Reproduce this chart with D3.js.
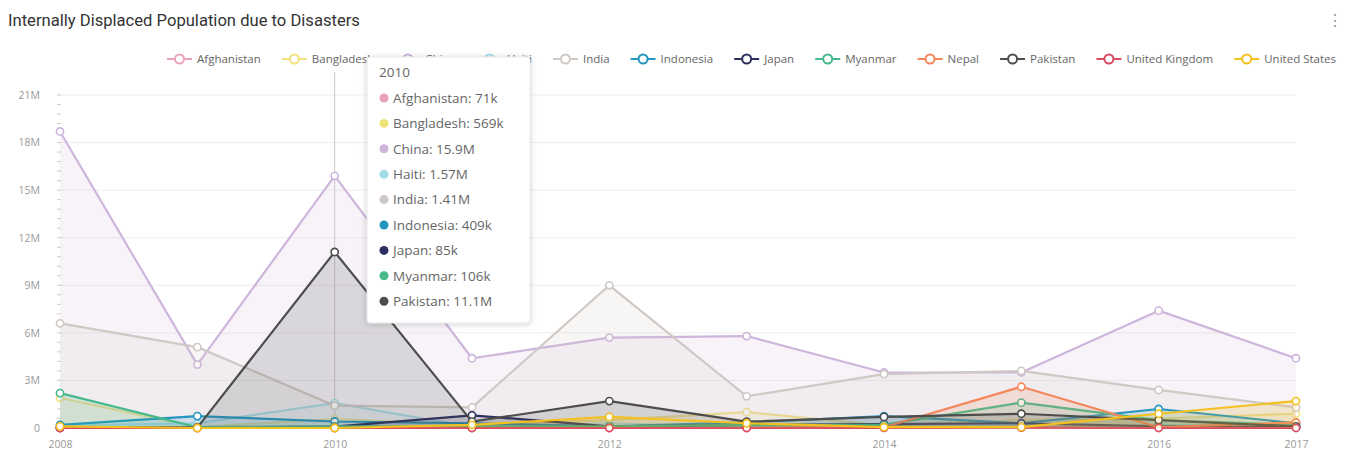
<!DOCTYPE html>
<html>
<head>
<meta charset="utf-8">
<script src="https://cdn.jsdelivr.net/npm/d3@7"></script>
<style>
  html, body { margin: 0; padding: 0; background: #fff; }
  svg { display: block; font-family: "Open Sans", "Noto Sans", sans-serif; }
</style>
</head>
<body>
<div id="chart"></div>
<script>
// years on the x axis
let years = [2008, 2009, 2010, 2011, 2012, 2013, 2014, 2015, 2016, 2017];
let xTickValues = [2008, 2010, 2012, 2014, 2016, 2017];
let yTickValues = [0, 3e6, 6e6, 9e6, 12e6, 15e6, 18e6, 21e6];

let countries = ['Afghanistan', 'Bangladesh', 'China', 'Haiti', 'India', 'Indonesia',
    'Japan', 'Myanmar', 'Nepal', 'Pakistan', 'United Kingdom', 'United States'];

// displaced people per year
let afghanistan = [0.01e6, 0.01e6, 71e3, 0.03e6, 0.03e6, 0.02e6, 0.02e6, 0.02e6, 0.02e6, 0.1e6];
let bangladesh = [1.9e6, 0.05e6, 569e3, 0.2e6, 0.5e6, 1.0e6, 0.15e6, 0.5e6, 0.6e6, 0.9e6];
let china = [18.7e6, 4.0e6, 15.9e6, 4.4e6, 5.7e6, 5.8e6, 3.5e6, 3.5e6, 7.4e6, 4.4e6];
let haiti = [0.15e6, 0.3e6, 1.57e6, 0.05e6, 0.3e6, 0.05e6, 0.02e6, 0.03e6, 0.2e6, 0.05e6];
let india = [6.6e6, 5.1e6, 1.41e6, 1.3e6, 9.0e6, 2.0e6, 3.4e6, 3.6e6, 2.4e6, 1.3e6];
let indonesia = [0.2e6, 0.75e6, 409e3, 0.3e6, 0.1e6, 0.35e6, 0.75e6, 0.3e6, 1.2e6, 0.3e6];
let japan = [0.01e6, 0.03e6, 85e3, 0.8e6, 0.1e6, 0.2e6, 0.25e6, 0.3e6, 0.1e6, 0.05e6];
let myanmar = [2.2e6, 0.05e6, 106e3, 0.1e6, 0.1e6, 0.2e6, 0.2e6, 1.6e6, 0.5e6, 0.2e6];
let nepal = [0, 0, 0, 0, 0, 0, 0.05e6, 2.6e6, 0.05e6, 0.35e6];
let pakistan = [0.05e6, 0.02e6, 11.1e6, 0.4e6, 1.7e6, 0.4e6, 0.7e6, 0.9e6, 0.5e6, 0.1e6];
let unitedKingdom = [0, 0, 0, 0, 0, 0, 0.01e6, 0.02e6, 0, 0];
let unitedStates = [0.1e6, 0, 0, 0.2e6, 0.7e6, 0.3e6, 0.05e6, 0.05e6, 0.9e6, 1.7e6];

let colors = ['#eba3b8', '#f2e27c', '#cdb5dc', '#a3dde9', '#cfc8c4', '#2596be',
    '#2d2f5e', '#46b98c', '#f4875b', '#4d4d4d', '#db4a63', '#f4c01e'];

let hoverYear = 2010;

let seriesValues = [afghanistan, bangladesh, china, haiti, india, indonesia,
    japan, myanmar, nepal, pakistan, unitedKingdom, unitedStates];

let W = 1350, H = 452;
let plot = { left: 60, right: 1296, top: 95, bottom: 428 };

let svg = d3.select('#chart').append('svg')
    .attr('width', W)
    .attr('height', H);

let transformX = d3.scaleLinear()
    .domain([years[0], years[years.length - 1]])
    .range([plot.left, plot.right]);

let transformY = d3.scaleLinear()
    .domain([0, 21e6])
    .range([plot.bottom, plot.top]);

// title + menu
svg.append('text')
    .attr('x', 8).attr('y', 26)
    .attr('font-family', 'Roboto, sans-serif')
    .attr('font-size', 16.6)
    .attr('fill', '#333')
    .text('Internally Displaced Population due to Disasters');

svg.append('text')
    .attr('x', 1335).attr('y', 26)
    .attr('text-anchor', 'middle')
    .attr('font-size', 16)
    .attr('fill', '#999')
    .text('\u22EE');

// grid
let gridG = svg.append('g').attr('class', 'grid');
gridG.selectAll('line').data(yTickValues).enter()
    .append('line')
    .attr('x1', plot.left).attr('x2', plot.right)
    .attr('y1', d => transformY(d)).attr('y2', d => transformY(d))
    .attr('stroke', '#eeeeee')
    .attr('stroke-width', 1);

// y axis, minor ticks every 600k
let axisY = d3.axisLeft(transformY)
    .tickValues(yTickValues)
    .tickFormat(d => d === 0 ? '0' : d3.format('~s')(d))
    .tickSize(0)
    .tickPadding(20);

let yG = svg.append('g')
    .attr('transform', 'translate(' + plot.left + ',0)')
    .call(axisY);
yG.select('.domain').remove();
yG.selectAll('text').attr('fill', '#999').attr('font-size', 10.5)
    .attr('font-family', '"Open Sans", sans-serif');

let minorTicks = d3.range(0, 21e6 + 1, 6e5);
svg.append('g').selectAll('line').data(minorTicks).enter()
    .append('line')
    .attr('x1', plot.left - 3).attr('x2', plot.left + 1)
    .attr('y1', d => transformY(d)).attr('y2', d => transformY(d))
    .attr('stroke', '#cccccc');

// x axis
let axisX = d3.axisBottom(transformX)
    .tickValues(xTickValues)
    .tickFormat(d3.format('d'))
    .tickSize(0)
    .tickPadding(13);

let xG = svg.append('g')
    .attr('transform', 'translate(0,' + plot.bottom + ')')
    .call(axisX);
xG.select('.domain').remove();
xG.selectAll('text').attr('fill', '#999').attr('font-size', 10.5)
    .attr('font-family', '"Open Sans", sans-serif');

// hover crosshair
svg.append('line')
    .attr('x1', transformX(hoverYear)).attr('x2', transformX(hoverYear))
    .attr('y1', 72).attr('y2', plot.bottom)
    .attr('stroke', '#c8c8c8')
    .attr('stroke-width', 1);

// series
let area = d3.area()
    .x(d => transformX(d.year))
    .y0(transformY(0))
    .y1(d => transformY(d.value));

let line = d3.line()
    .x(d => transformX(d.year))
    .y(d => transformY(d.value));

countries.forEach(function (name, i) {
    let data = years.map((yr, j) => ({ year: yr, value: seriesValues[i][j] }));
    let g = svg.append('g').attr('class', 'series');

    g.append('path').datum(data)
        .attr('d', area)
        .attr('fill', colors[i])
        .attr('fill-opacity', 0.17);

    g.append('path').datum(data)
        .attr('d', line)
        .attr('fill', 'none')
        .attr('stroke', colors[i])
        .attr('stroke-width', 2.2)
        .attr('stroke-linejoin', 'round');

    g.selectAll('circle').data(data).enter()
        .append('circle')
        .attr('cx', d => transformX(d.year))
        .attr('cy', d => transformY(d.value))
        .attr('r', 3.6)
        .attr('fill', '#fff')
        .attr('stroke', colors[i])
        .attr('stroke-width', 1.6);
});

// legend, spread between the measured ends
let legendLeft = 167, legendRight = 1336, legendY = 59;
let symW = 25, symPad = 5;
let legendG = svg.append('g').attr('class', 'legend');
let items = countries.map(function (name, i) {
    let it = legendG.append('g');
    it.append('text')
        .attr('font-size', 11.5)
        .attr('fill', '#666')
        .attr('dy', '0.35em')
        .text(name);
    return it;
});
let widths = items.map(it => symW + symPad + it.select('text').node().getComputedTextLength());
let gap = (legendRight - legendLeft - d3.sum(widths)) / (items.length - 1);
let cursor = legendLeft;
items.forEach(function (it, i) {
    it.attr('transform', 'translate(' + cursor + ',' + legendY + ')');
    it.select('text').attr('x', symW + symPad);
    it.insert('line', 'text')
        .attr('x1', 0).attr('x2', symW)
        .attr('stroke', colors[i]).attr('stroke-width', 2);
    it.insert('circle', 'text')
        .attr('cx', symW / 2).attr('r', 4.5)
        .attr('fill', '#fff')
        .attr('stroke', colors[i]).attr('stroke-width', 2);
    cursor += widths[i] + gap;
});

// tooltip for the hovered year
let hoverIdx = years.indexOf(hoverYear);
let tipRows = countries
    .map((name, i) => ({ name: name, value: seriesValues[i][hoverIdx], color: colors[i] }))
    .filter(d => d.value > 0);

let defs = svg.append('defs');
let shadow = defs.append('filter').attr('id', 'tipShadow')
    .attr('x', '-20%').attr('y', '-20%').attr('width', '140%').attr('height', '140%');
shadow.append('feDropShadow')
    .attr('dx', 0).attr('dy', 1).attr('stdDeviation', 3)
    .attr('flood-color', '#000').attr('flood-opacity', 0.18);

let tip = svg.append('g').attr('transform', 'translate(367,57)');
tip.append('rect')
    .attr('width', 163)
    .attr('height', 266)
    .attr('rx', 3)
    .attr('fill', '#fff')
    .attr('stroke', '#e6e6e6')
    .attr('filter', 'url(#tipShadow)');
tip.append('text')
    .attr('x', 12).attr('y', 15)
    .attr('dy', '0.35em')
    .attr('font-size', 13.5)
    .attr('fill', '#666')
    .text(hoverYear);
let rows = tip.selectAll('g.row').data(tipRows).enter()
    .append('g').attr('class', 'row')
    .attr('transform', (d, i) => 'translate(0,' + (41 + i * 25.4) + ')');
rows.append('circle')
    .attr('cx', 17).attr('r', 4.5)
    .attr('fill', d => d.color);
rows.append('text')
    .attr('x', 26)
    .attr('dy', '0.35em')
    .attr('font-size', 13.5)
    .attr('fill', '#666')
    .text(d => d.name + ': ' + d3.format('.3~s')(d.value));
</script>
</body>
</html>
